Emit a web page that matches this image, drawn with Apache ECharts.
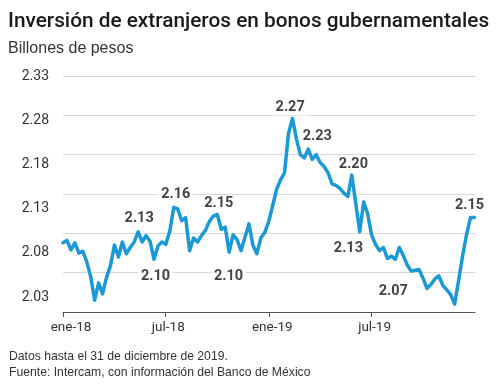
<!DOCTYPE html>
<html>
<head>
<meta charset="utf-8">
<script src="https://cdn.jsdelivr.net/npm/echarts@6/dist/echarts.min.js"></script>
<style>html,body{margin:0;padding:0;background:#fff}#c{width:500px;height:389px}</style>
</head>
<body>
<div id="c"></div>
<script>
// ---- data ----
const startDate = '2018-01-01';
const endDate = '2019-12-31';
const stepDays = 7; // weekly observations
const values = [
  2.118, 2.121, 2.109, 2.118, 2.105, 2.107, 2.094, 2.075, 2.045, 2.067,
  2.053, 2.074, 2.089, 2.115, 2.100, 2.119, 2.104, 2.112, 2.119, 2.132,
  2.119, 2.127, 2.120, 2.097, 2.114, 2.119, 2.116, 2.133, 2.163, 2.161,
  2.146, 2.150, 2.108, 2.124, 2.119, 2.127, 2.134, 2.145, 2.152, 2.154,
  2.135, 2.138, 2.106, 2.128, 2.122, 2.108, 2.125, 2.142, 2.115, 2.104,
  2.124, 2.131, 2.145, 2.165, 2.186, 2.198, 2.207, 2.257, 2.276, 2.250,
  2.230, 2.226, 2.237, 2.224, 2.230, 2.220, 2.215, 2.207, 2.193, 2.191,
  2.187, 2.181, 2.177, 2.204, 2.168, 2.132, 2.170, 2.155, 2.128, 2.116,
  2.108, 2.112, 2.098, 2.101, 2.097, 2.112, 2.102, 2.090, 2.082, 2.083,
  2.084, 2.073, 2.060, 2.065, 2.072, 2.076, 2.064, 2.058, 2.052, 2.040,
  2.070, 2.101, 2.128, 2.150, 2.150
];
const tickDates = ['2018-01-01', '2018-07-01', '2019-01-01', '2019-07-01'];
const tickLabels = ['ene-18', 'jul-18', 'ene-19', 'jul-19'];
const yTickLabels = ['2.03', '2.08', '2.13', '2.18', '2.28', '2.33']; // as printed in the source
const annoIndex = [19, 28, 39, 23, 42, 58, 62, 73, 75, 84, 103];
const annoText  = ['2.13', '2.16', '2.15', '2.10', '2.10', '2.27', '2.23', '2.20', '2.13', '2.07', '2.15'];

// ---- label placement (style) ----
const annoOffset = [[1,-13],[2,-12.5],[1.5,-11],[1.5,16.7],[-0.6,23.7],[-2.3,-11.6],[9,-12.3],[1.6,-11.2],[-11.3,16.2],[-2,31.7],[-1,-12.2]];

// ---- build ----
function fmt(d){return d.toISOString().slice(0,10);}
const days = [];
{
  const s = new Date(startDate + 'T00:00:00Z'), e = new Date(endDate + 'T00:00:00Z');
  for (let d = new Date(s); d <= e; d.setUTCDate(d.getUTCDate()+1)) days.push(fmt(d));
}
const lineData = days.map(() => null);
values.forEach((v, k) => { lineData[k*stepDays] = v; });
const annoData = annoIndex.map((k, i) => ({
  value: [days[k*stepDays], values[k]],
  label: { formatter: annoText[i], offset: annoOffset[i] }
}));

const ROBOTO = "Roboto,'Noto Sans',sans-serif";
const SANS = "'Liberation Sans',Arial,sans-serif";

const chart = echarts.init(document.getElementById('c'), null, {renderer:'canvas'});
chart.setOption({
  animation: false,
  backgroundColor: '#fff',
  title: [
    { text: 'Inversión de extranjeros en bonos gubernamentales', left: 3, top: 6, padding: 5,
      textStyle: { fontFamily: ROBOTO, fontSize: 20.8, fontWeight: 500, color: '#1a1a1a' } },
    { text: 'Billones de pesos', left: 3, top: 36, padding: 5,
      textStyle: { fontFamily: SANS, fontSize: 16, fontWeight: 'normal', color: '#333' } },
    { text: 'Datos hasta el 31 de diciembre de 2019.', left: 4, top: 346, padding: 5,
      textStyle: { fontFamily: SANS, fontSize: 12.2, fontWeight: 'normal', color: '#333' } },
    { text: 'Fuente: Intercam, con información del Banco de México', left: 4, top: 362, padding: 5,
      textStyle: { fontFamily: SANS, fontSize: 12.2, fontWeight: 'normal', color: '#333' } }
  ],
  grid: [
    { left: 63, right: 25, top: 76, bottom: 77, containLabel: false },
    { left: 63, right: 25, top: 76, bottom: 92, containLabel: false }
  ],
  xAxis: [
    { type: 'category', gridIndex: 0, data: days, boundaryGap: false,
      axisLine: { show: true, lineStyle: { color: '#555', width: 1 } },
      axisTick: { show: true, length: 5, lineStyle: { color: '#555' },
        interval: (i, v) => tickDates.indexOf(v) >= 0 },
      axisLabel: { show: true, interval: (i, v) => tickDates.indexOf(v) >= 0,
        formatter: v => (v === tickDates[0] ? '{f|' : '{o|') + tickLabels[tickDates.indexOf(v)] + '}',
        rich: {
          f: { fontFamily: ROBOTO, fontSize: 13.5, color: '#333', padding: [0, 0, 0, 16] },
          o: { fontFamily: ROBOTO, fontSize: 13.5, color: '#333', padding: [0, 0, 0, 6] }
        },
        fontFamily: ROBOTO, fontSize: 13.5, color: '#333', margin: 9 },
      splitLine: { show: false } },
    { type: 'value', gridIndex: 1, show: false, min: 0, max: 1 }
  ],
  yAxis: [
    { type: 'value', gridIndex: 0, min: 2.03, max: 2.33, interval: 0.05,
      axisLine: { show: false }, axisTick: { show: false }, axisLabel: { show: false },
      splitLine: { show: true, lineStyle: { color: '#d8d8d8', width: 1 } } },
    { type: 'category', gridIndex: 1, data: yTickLabels, boundaryGap: false,
      axisLine: { show: false }, axisTick: { show: false }, splitLine: { show: false },
      axisLabel: { fontFamily: ROBOTO, fontSize: 14, color: '#333', margin: 14 } }
  ],
  series: [
    { type: 'line', xAxisIndex: 0, yAxisIndex: 0, data: lineData, connectNulls: true,
      showSymbol: false, symbol: 'none', z: 3,
      lineStyle: { color: '#1a99d6', width: 3.5, join: 'round', cap: 'round' } },
    { type: 'scatter', xAxisIndex: 0, yAxisIndex: 0, data: annoData, symbolSize: 0, z: 5,
      silent: true,
      label: { show: true, position: 'inside', fontFamily: ROBOTO, fontSize: 14.5, fontWeight: 'bold',
        color: '#111', backgroundColor: '#fff', padding: [1, 3] } }
  ]
});
</script>
</body>
</html>
